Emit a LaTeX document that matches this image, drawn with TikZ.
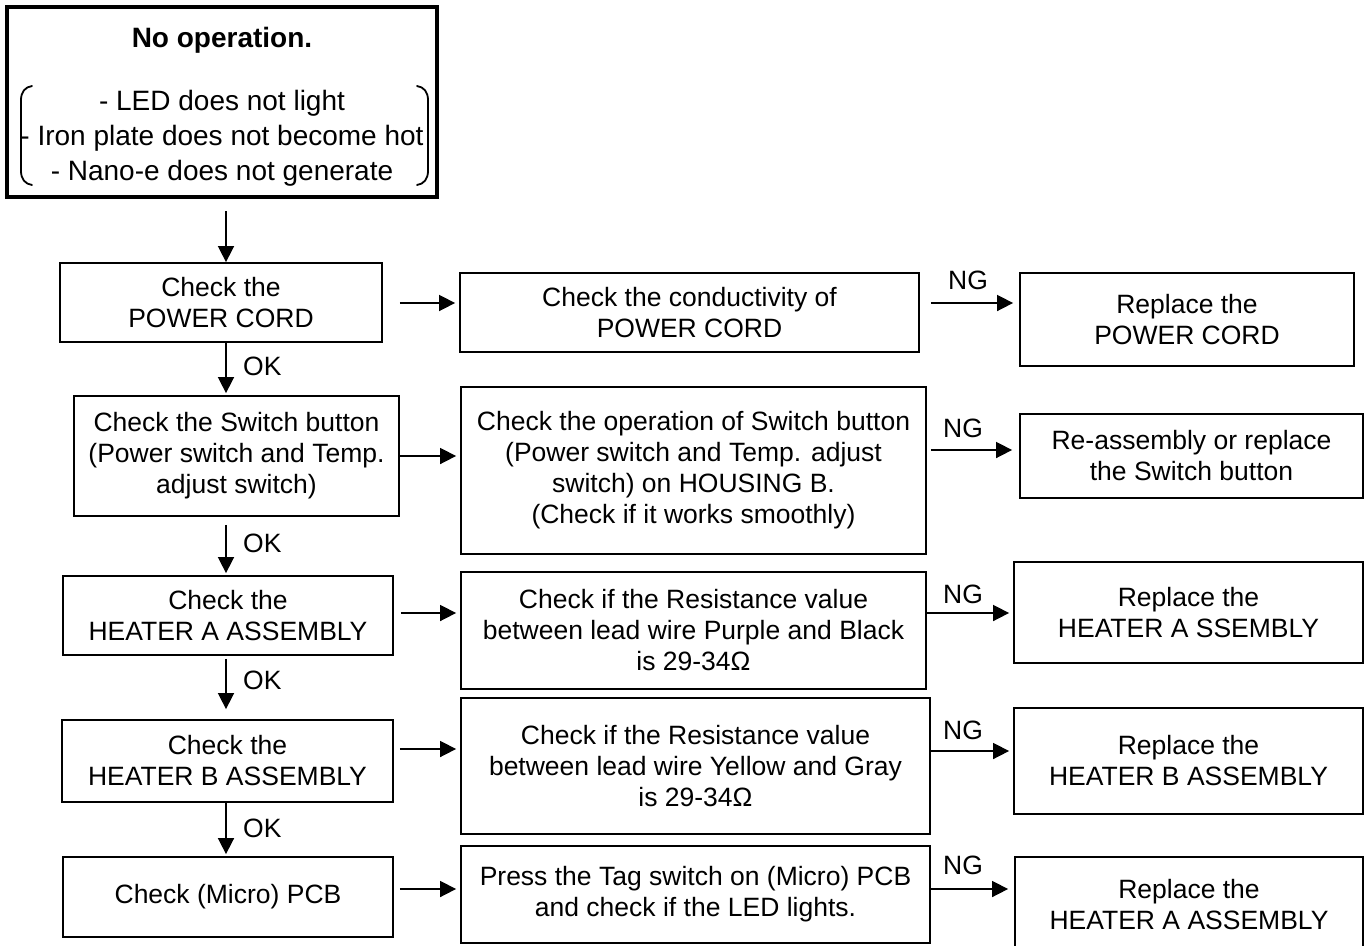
\documentclass[tikz,border=0pt]{standalone}
\usepackage{fontspec}
\setmainfont{Liberation Sans}
\usetikzlibrary{arrows.meta}
\newcommand{\fsbox}{\fontsize{26.5pt}{31pt}\selectfont}
\newcommand{\fstop}{\fontsize{28pt}{35pt}\selectfont}
\begin{document}
\begin{tikzpicture}[x=1pt,y=-1pt,
  box/.style={draw, line width=1.8pt, rectangle, inner sep=0pt, align=center, font=\fsbox},
  topbox/.style={draw, line width=4pt, rectangle, inner sep=0pt},
  toptext/.style={inner sep=0pt, align=center, font=\fstop},
  lbl/.style={inner sep=0pt, font=\fsbox},
  arr/.style={line width=1.6pt, -{Triangle[length=16pt,width=16pt]}},
  brk/.style={line width=1.8pt, line cap=round}]
\useasboundingbox (0,0) rectangle (1367,945);
\clip (0,0) rectangle (1367,945);
\fill[white] (0,0) rectangle (1367,945);

% top box
\node[topbox, minimum width=430pt, minimum height=190pt] (T) at (222,102) {};
\node[toptext] (Tt) at (222,106.5) {\textbf{No operation.}\\[28pt]- LED does not light\\- Iron plate does not become hot\\- Nano-e does not generate};
\draw[brk] (32,86) .. controls (25,87) and (21,92) .. (21,100) -- (21,171) .. controls (21,179) and (25,184) .. (32,185);
\draw[brk] (417,86) .. controls (424,87) and (428,92) .. (428,100) -- (428,171) .. controls (428,179) and (424,184) .. (417,185);

% left column
\node[box, minimum width=322pt, minimum height=79pt] (B1) at (221,302.5) {Check the\\POWER CORD};
\node[box, minimum width=325pt, minimum height=120pt] (B2) at (236.5,456) {Check the Switch button\\(Power switch and Temp.\\adjust switch)};
\node[box, minimum width=330pt, minimum height=79pt] (B3) at (228,615.5) {Check the\\HEATER A ASSEMBLY};
\node[box, minimum width=331pt, minimum height=82pt] (B4) at (227.5,761) {Check the\\HEATER B ASSEMBLY};
\node[box, minimum width=330pt, minimum height=80pt] (B5) at (228,897) {Check (Micro) PCB};

% middle column
\node[box, minimum width=459pt, minimum height=79pt] (M1) at (689.5,312.5) {Check the conductivity of\\POWER CORD};
\node[box, minimum width=465pt, minimum height=167pt] (M2) at (693.5,470.5) {Check the operation of Switch button\\(Power switch and Temp. adjust\\switch) on HOUSING B.\\(Check if it works smoothly)};
\node[box, minimum width=465pt, minimum height=117pt] (M3) at (693.5,630.5) {Check if the Resistance value\\between lead wire Purple and Black\\is 29-34Ω};
\node[box, minimum width=469pt, minimum height=136pt] (M4) at (695.5,766) {Check if the Resistance value\\between lead wire Yellow and Gray\\is 29-34Ω};
\node[box, minimum width=469pt, minimum height=97pt] (M5) at (695.5,894.5) {Press the Tag switch on (Micro) PCB\\and check if the LED lights.};

% right column
\node[box, minimum width=334pt, minimum height=93pt] (R1) at (1187,319.5) {Replace the\\POWER CORD};
\node[box, minimum width=343pt, minimum height=84pt] (R2) at (1191.5,456) {Re-assembly or replace\\the Switch button};
\node[box, minimum width=349pt, minimum height=101pt] (R3) at (1188.5,612.5) {Replace the\\HEATER A SSEMBLY};
\node[box, minimum width=349pt, minimum height=106pt] (R4) at (1188.5,761) {Replace the\\HEATER B ASSEMBLY};
\node[box, minimum width=348pt, minimum height=96pt] (R5) at (1189,905) {Replace the\\HEATER A ASSEMBLY};

% vertical arrows
\draw[arr, shorten <=12pt] (T.south -| 226,0) -- (B1.north -| 226,0);
\draw[arr, shorten >=2pt] (B1.south -| 226,0) -- (B2.north -| 226,0);
\draw[arr, shorten <=8pt, shorten >=2pt] (B2.south -| 226,0) -- (B3.north -| 226,0);
\draw[arr, shorten <=3pt, shorten >=10pt] (B3.south -| 226,0) -- (B4.north -| 226,0);
\draw[arr, shorten >=2pt] (B4.south -| 226,0) -- (B5.north -| 226,0);

% OK labels
\node[lbl, anchor=west] (ok1) at (243,366) {OK};
\node[lbl, anchor=west] (ok2) at (243,543) {OK};
\node[lbl, anchor=west] (ok3) at (243,680) {OK};
\node[lbl, anchor=west] (ok4) at (243,828) {OK};

% left to middle
\draw[arr, shorten <=17pt, shorten >=4pt] (B1.east |- 0,303) -- (M1.west |- 0,303);
\draw[arr, shorten >=4pt] (B2.east |- 0,456) -- (M2.west |- 0,456);
\draw[arr, shorten <=7pt, shorten >=4pt] (B3.east |- 0,613) -- (M3.west |- 0,613);
\draw[arr, shorten <=6pt, shorten >=4pt] (B4.east |- 0,749) -- (M4.west |- 0,749);
\draw[arr, shorten <=6pt, shorten >=4pt] (B5.east |- 0,889) -- (M5.west |- 0,889);

% middle to right
\draw[arr, shorten <=11pt, shorten >=6pt] (M1.east |- 0,303) -- (R1.west |- 0,303);
\draw[arr, shorten <=4pt, shorten >=7pt] (M2.east |- 0,450) -- (R2.west |- 0,450);
\draw[arr, shorten >=4pt] (M3.east |- 0,613) -- (R3.west |- 0,613);
\draw[arr, shorten >=4pt] (M4.east |- 0,751) -- (R4.west |- 0,751);
\draw[arr, shorten >=6pt] (M5.east |- 0,889) -- (R5.west |- 0,889);

% NG labels
\node[lbl] (ng1) at (968,280) {NG};
\node[lbl] (ng2) at (963,428) {NG};
\node[lbl] (ng3) at (963,594) {NG};
\node[lbl] (ng4) at (963,730) {NG};
\node[lbl] (ng5) at (963,865) {NG};
\end{tikzpicture}
\end{document}
